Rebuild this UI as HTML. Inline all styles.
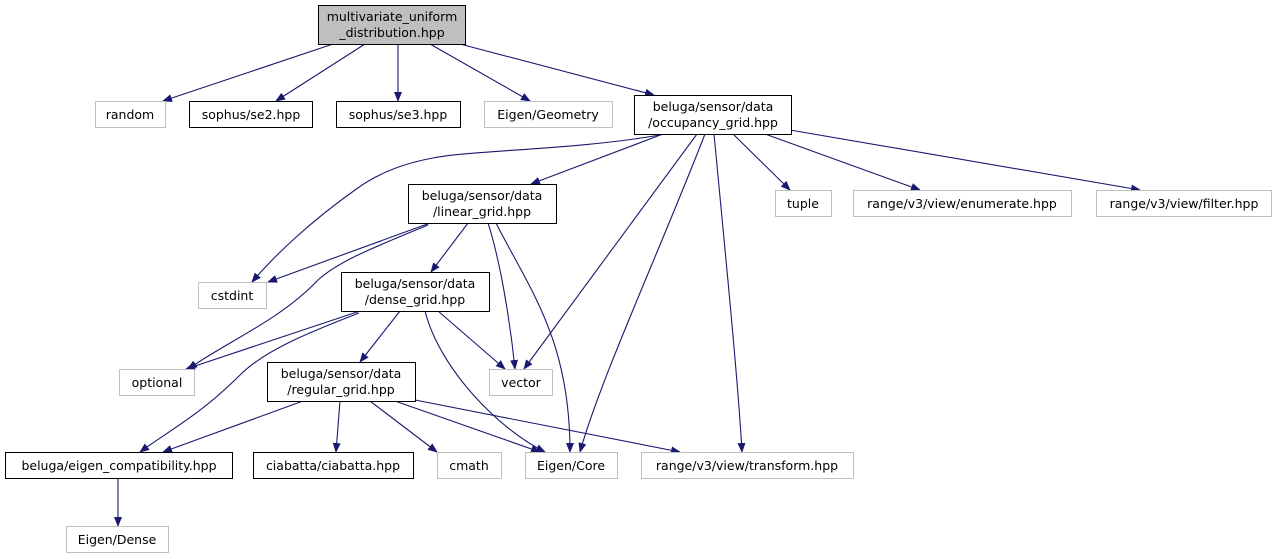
<!DOCTYPE html>
<html><head><meta charset="utf-8"><style>
html,body{margin:0;padding:0;background:#fff;width:1276px;height:559px;overflow:hidden}
text{font-family:"DejaVu Sans","Liberation Sans",sans-serif;font-size:12.5px;fill:#000}
</style></head><body>
<svg width="1276" height="559" viewBox="0 0 1276 559" xmlns="http://www.w3.org/2000/svg">
<defs><marker id="a" markerWidth="10" markerHeight="8" refX="9" refY="4" orient="auto" markerUnits="userSpaceOnUse"><path d="M0,0 L10,4 L0,8 Z" fill="#191970"/></marker></defs>
<g fill="none" stroke="#191970" stroke-width="1.1" marker-end="url(#a)">
<path d="M333,44 L163,101"/>
<path d="M365,44 L276,101"/>
<path d="M398,44 L398,101"/>
<path d="M430,44 L530,101"/>
<path d="M460,44 L654,95"/>
<path d="M665,134 C580,150 470,150 433,158 C400,164 375,175 355,190 C310,222 275,255 252,282"/>
<path d="M663,134 L531,184"/>
<path d="M697,134 L524,369"/>
<path d="M705,134 C660,250 600,380 580,452"/>
<path d="M714,134 C725,250 738,380 742,452"/>
<path d="M733,134 L790,190"/>
<path d="M765,134 L920,190"/>
<path d="M790,130 L1140,190"/>
<path d="M430,223 L268,282"/>
<path d="M428,225 C380,245 340,260 318,280 C280,320 230,340 188,369"/>
<path d="M468,223 L431,272"/>
<path d="M488,223 C500,260 510,320 515,369"/>
<path d="M496,223 C530,290 570,340 570,452"/>
<path d="M360,311 L186,369"/>
<path d="M359,313 C310,332 265,350 240,375 C200,415 170,430 140,452"/>
<path d="M400,311 L360,362"/>
<path d="M438,311 L505,369"/>
<path d="M425,311 C440,370 500,430 545,452"/>
<path d="M303,401 L163,452"/>
<path d="M340,401 L336,452"/>
<path d="M370,401 L437,452"/>
<path d="M395,401 L540,452"/>
<path d="M415,400 L680,452"/>
<path d="M118,478 L118,526"/>
</g>
<g stroke-width="1">
<rect x="318.5" y="5.5" width="147" height="39" fill="#bfbfbf" stroke="#000"/>
<rect x="95.5" y="101.5" width="70" height="26" fill="#fff" stroke="#bfbfbf"/>
<rect x="189.5" y="101.5" width="123" height="26" fill="#fff" stroke="#000"/>
<rect x="336.5" y="101.5" width="124" height="26" fill="#fff" stroke="#000"/>
<rect x="484.5" y="101.5" width="128" height="26" fill="#fff" stroke="#bfbfbf"/>
<rect x="634.5" y="95.5" width="157" height="39" fill="#fff" stroke="#000"/>
<rect x="775.5" y="190.5" width="56" height="26" fill="#fff" stroke="#bfbfbf"/>
<rect x="853.5" y="190.5" width="218" height="26" fill="#fff" stroke="#bfbfbf"/>
<rect x="1096.5" y="190.5" width="175" height="26" fill="#fff" stroke="#bfbfbf"/>
<rect x="408.5" y="184.5" width="148" height="39" fill="#fff" stroke="#000"/>
<rect x="198.5" y="282.5" width="68" height="26" fill="#fff" stroke="#bfbfbf"/>
<rect x="341.5" y="272.5" width="148" height="39" fill="#fff" stroke="#000"/>
<rect x="119.5" y="369.5" width="75" height="26" fill="#fff" stroke="#bfbfbf"/>
<rect x="489.5" y="369.5" width="63" height="26" fill="#fff" stroke="#bfbfbf"/>
<rect x="267.5" y="362.5" width="148" height="39" fill="#fff" stroke="#000"/>
<rect x="5.5" y="452.5" width="227" height="26" fill="#fff" stroke="#000"/>
<rect x="253.5" y="452.5" width="160" height="26" fill="#fff" stroke="#000"/>
<rect x="437.5" y="452.5" width="64" height="26" fill="#fff" stroke="#bfbfbf"/>
<rect x="525.5" y="452.5" width="92" height="26" fill="#fff" stroke="#bfbfbf"/>
<rect x="641.5" y="452.5" width="212" height="26" fill="#fff" stroke="#bfbfbf"/>
<rect x="66.5" y="526.5" width="102" height="26" fill="#fff" stroke="#bfbfbf"/>
</g>
<g text-anchor="middle">
<text x="392" y="21">multivariate_uniform</text><text x="392" y="37">_distribution.hpp</text>
<text x="130" y="119">random</text>
<text x="251" y="119">sophus/se2.hpp</text>
<text x="398" y="119">sophus/se3.hpp</text>
<text x="548" y="119">Eigen/Geometry</text>
<text x="713" y="111">beluga/sensor/data</text><text x="713" y="127">/occupancy_grid.hpp</text>
<text x="803" y="208">tuple</text>
<text x="962" y="208">range/v3/view/enumerate.hpp</text>
<text x="1184" y="208">range/v3/view/filter.hpp</text>
<text x="482" y="200">beluga/sensor/data</text><text x="482" y="216">/linear_grid.hpp</text>
<text x="232" y="300">cstdint</text>
<text x="415" y="288">beluga/sensor/data</text><text x="415" y="304">/dense_grid.hpp</text>
<text x="157" y="387">optional</text>
<text x="521" y="387">vector</text>
<text x="341" y="378">beluga/sensor/data</text><text x="341" y="394">/regular_grid.hpp</text>
<text x="119" y="470">beluga/eigen_compatibility.hpp</text>
<text x="333" y="470">ciabatta/ciabatta.hpp</text>
<text x="469" y="470">cmath</text>
<text x="571" y="470">Eigen/Core</text>
<text x="747" y="470">range/v3/view/transform.hpp</text>
<text x="117" y="544">Eigen/Dense</text>
</g>
</svg>
</body></html>
